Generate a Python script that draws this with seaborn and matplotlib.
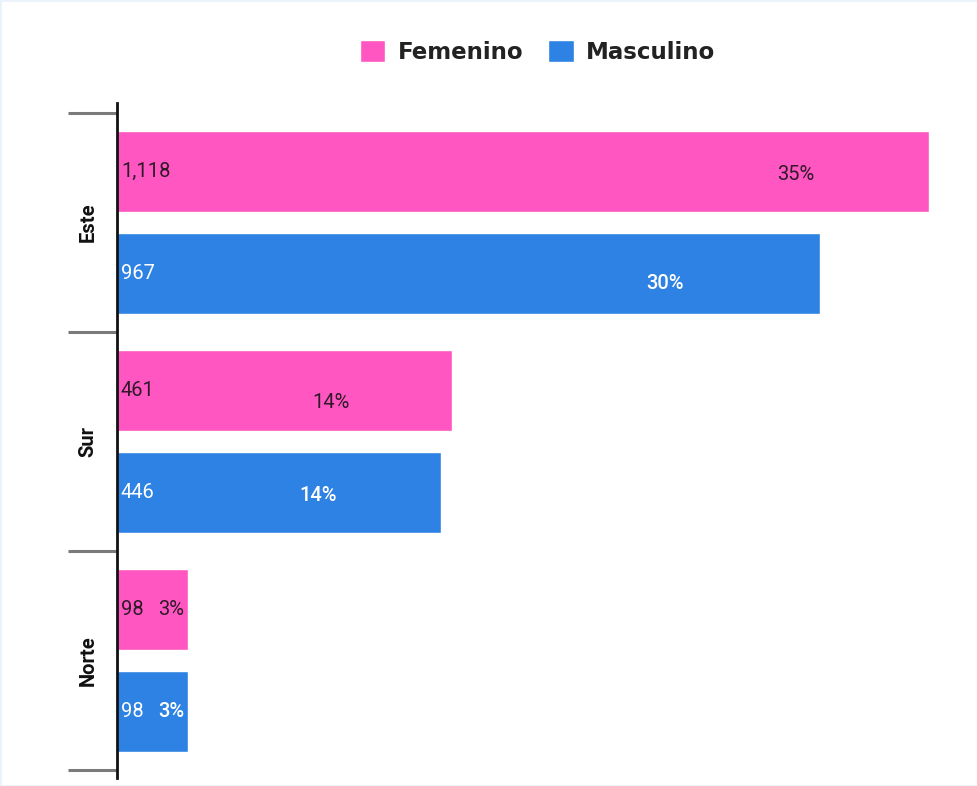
import matplotlib
matplotlib.use("Agg")
import matplotlib.pyplot as plt
import seaborn as sns
import pandas as pd
from matplotlib.patches import Rectangle

# ---- data ----
regions = ["Este", "Sur", "Norte"]
genders = ["Femenino", "Masculino"]
femenino = [1118, 461, 98]
masculino = [967, 446, 98]

# ---- style ----
colors = {"Femenino": "#ff56c2", "Masculino": "#2e82e3"}
label_colors = {"Femenino": "#2e1a28", "Masculino": "#ffffff"}
pct_weight = {"Femenino": "normal", "Masculino": "medium"}
# horizontal position of percentage label as a fraction of bar length
pct_frac = {"Femenino": [0.835, 0.64, 0.76], "Masculino": [0.78, 0.62, 0.76]}
# vertical offset (px, downward) of percentage label
pct_dy = {"Femenino": [2.5, 12, 0], "Masculino": [9.5, 2.5, 0]}

df = pd.DataFrame({
    "Región": regions * 2,
    "Género": [genders[0]] * 3 + [genders[1]] * 3,
    "Valor": femenino + masculino,
})
total = df["Valor"].sum()

sns.set_style("white")
plt.rcParams["font.family"] = ["Roboto", "DejaVu Sans"]

W, H = 978, 786
fig = plt.figure(figsize=(W / 100, H / 100), dpi=100)
ax = fig.add_axes([117 / W, 8 / H, (960 - 117) / W, 675 / H])

sns.barplot(data=df, y="Región", x="Valor", hue="Género", order=regions,
            hue_order=genders, palette=colors, orient="h", width=0.9315,
            gap=0.206, saturation=1, ax=ax)

ax.set_xlim(0, 1160)
ax.set_ylim(2.5365, -0.5457)

px = 72 / 100  # points per pixel
for gender, cont in zip(genders, ax.containers):
    for i, bar in enumerate(cont):
        w = bar.get_width()
        yc = bar.get_y() + bar.get_height() / 2
        ax.annotate(f"{w:,.0f}", xy=(0, yc), xytext=(4 * px, 0),
                    textcoords="offset points", ha="left", va="center",
                    fontsize=14.5, color=label_colors[gender])
        ax.annotate(f"{w / total * 100:.0f}%", xy=(w * pct_frac[gender][i], yc),
                    xytext=(0, -pct_dy[gender][i] * px),
                    textcoords="offset points", ha="center", va="center",
                    fontsize=14.5, color=label_colors[gender],
                    fontweight=pct_weight[gender])

# axes styling
for s in ["top", "right", "bottom"]:
    ax.spines[s].set_visible(False)
ax.spines["left"].set_linewidth(2)
ax.spines["left"].set_color("#111111")
ax.set_xticks([])
ax.set_xlabel("")
ax.set_ylabel("")
ax.set_yticks([-0.5, 0.5, 1.5, 2.5])
ax.set_yticklabels([])
ax.tick_params(axis="y", which="major", length=49 * px, width=2.2,
               color="#7a7a7a", left=True)
ax.set_yticks(range(len(regions)), minor=True)
ax.set_yticklabels(regions, minor=True, rotation=90, va="center",
                   fontsize=14.5, fontweight="bold", color="#111111")
ax.tick_params(axis="y", which="minor", length=0, pad=14)

sns.move_legend(ax, loc="center", bbox_to_anchor=(537.5 / W, 1 - 52 / H),
                bbox_transform=fig.transFigure, ncol=2, title=None,
                frameon=False, prop={"family": "DejaVu Sans", "weight": "bold", "size": 16.5},
                handlelength=1.1, handleheight=1.1, handletextpad=0.55,
                columnspacing=1.1)
for t in ax.get_legend().get_texts():
    t.set_color("#222222")

fig.patches.append(Rectangle((0, 0), 1, 1, transform=fig.transFigure,
                             fill=False, edgecolor="#eaf3f9", linewidth=2))

fig.savefig("out.png", dpi=100)
